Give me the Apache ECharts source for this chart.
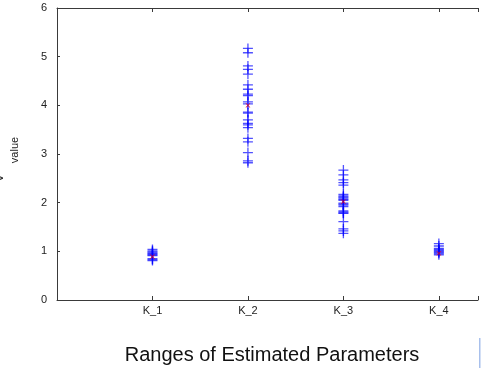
<!DOCTYPE html>
<html>
<head>
<meta charset="utf-8">
<script src="https://cdn.jsdelivr.net/npm/echarts@6/dist/echarts.min.js"></script>
<style>
html,body{margin:0;padding:0;background:#fff;}
#chart{width:481px;height:371px;}
</style>
</head>
<body>
<div id="chart"></div>
<script>
var categories = ['K_1', 'K_2', 'K_3', 'K_4'];
var k1Values = [1.04, 1.01, 0.99, 0.97, 0.95, 0.93, 0.91, 0.85, 0.83, 0.81];
var k2Values = [5.17, 5.08, 4.81, 4.74, 4.64, 4.42, 4.33, 4.23, 4.20, 4.07, 4.03, 3.86, 3.84, 3.70, 3.63, 3.60, 3.54, 3.32, 3.25, 3.03, 2.86, 2.82];
var k3Values = [2.67, 2.57, 2.47, 2.41, 2.36, 2.17, 2.14, 2.12, 2.10, 2.07, 2.05, 1.99, 1.97, 1.95, 1.92, 1.83, 1.81, 1.79, 1.78, 1.61, 1.46, 1.42, 1.37];
var k4Values = [1.16, 1.11, 1.06, 1.04, 1.02, 1.00, 0.98, 0.96, 0.93];
var meanValues = [0.89, 4.00, 2.02, 0.96];
var yTickLabels = ['0', '1', '2', '3', '4', '5', '6'];

var allValues = [k1Values, k2Values, k3Values, k4Values];
var plusPath = 'path://M0,4.35H10V5.65H0Z M4.35,0H5.65V10H4.35Z';

var blueData = [];
allValues.forEach(function (arr, i) {
  arr.forEach(function (v) { blueData.push([i + 1, v]); });
});
var redData = meanValues.map(function (v, i) { return [i + 1, v]; });

// visible portion of the x range (the original figure is cropped on the right)
var xMaxVisible = 4.41;

var chart = echarts.init(document.getElementById('chart'));
var axisColor = '#3a3a3a';
var fontFam = 'Liberation Sans, Arial, sans-serif';
chart.setOption({
  animation: false,
  backgroundColor: '#ffffff',
  grid: { left: 57, top: 8, right: 0, bottom: 71, containLabel: false },
  xAxis: [{
    type: 'value', min: 0, max: xMaxVisible, interval: 1, position: 'bottom',
    axisLine: { show: true, onZero: false, lineStyle: { color: axisColor, width: 1 } },
    axisTick: { show: true, inside: true, length: 4, lineStyle: { color: axisColor } },
    splitLine: { show: false },
    axisLabel: {
      margin: 5, fontSize: 11, color: '#222', fontFamily: fontFam,
      formatter: function (v) { return categories[v - 1] || ''; }
    }
  }, {
    type: 'value', min: 0, max: xMaxVisible, interval: 1, position: 'top',
    axisLine: { show: true, onZero: false, lineStyle: { color: axisColor, width: 1 } },
    axisTick: { show: true, inside: true, length: 4, lineStyle: { color: axisColor } },
    splitLine: { show: false },
    axisLabel: { show: false }
  }],
  yAxis: [{
    type: 'value', min: 0, max: 6, interval: 1, position: 'left',
    axisLine: { show: true, onZero: false, lineStyle: { color: axisColor, width: 1 } },
    axisTick: { show: true, inside: true, length: 3, lineStyle: { color: axisColor } },
    splitLine: { show: false },
    axisLabel: {
      margin: 10, fontSize: 11, color: '#222', fontFamily: fontFam,
      formatter: function (v) { return yTickLabels[v]; }
    }
  }],
  series: [{
    type: 'scatter',
    data: blueData,
    symbol: plusPath,
    symbolSize: [10, 10],
    itemStyle: { color: 'rgba(0,0,255,0.85)' },
    clip: false
  }, {
    type: 'scatter',
    data: redData,
    symbol: plusPath,
    symbolSize: [6, 6],
    symbolRotate: 45,
    itemStyle: { color: '#ff0000' },
    clip: false
  }],
  graphic: [{
    type: 'text', x: 15, y: 150, rotation: Math.PI / 2,
    style: { text: 'value', fontSize: 11, fill: '#222', fontFamily: fontFam,
             align: 'center', verticalAlign: 'middle' }
  }, {
    type: 'text', x: -1, y: 178, rotation: Math.PI / 2,
    style: { text: 'V', fontSize: 14, fill: '#222', fontFamily: fontFam,
             align: 'center', verticalAlign: 'middle' }
  }, {
    type: 'text', x: 272, y: 355,
    style: { text: 'Ranges of Estimated Parameters', fontSize: 20, fill: '#111',
             fontFamily: fontFam, align: 'center', verticalAlign: 'middle' }
  }, {
    type: 'rect', shape: { x: 479, y: 338, width: 1.5, height: 30 },
    style: { fill: '#a8c0ec' }
  }]
});
</script>
</body>
</html>
